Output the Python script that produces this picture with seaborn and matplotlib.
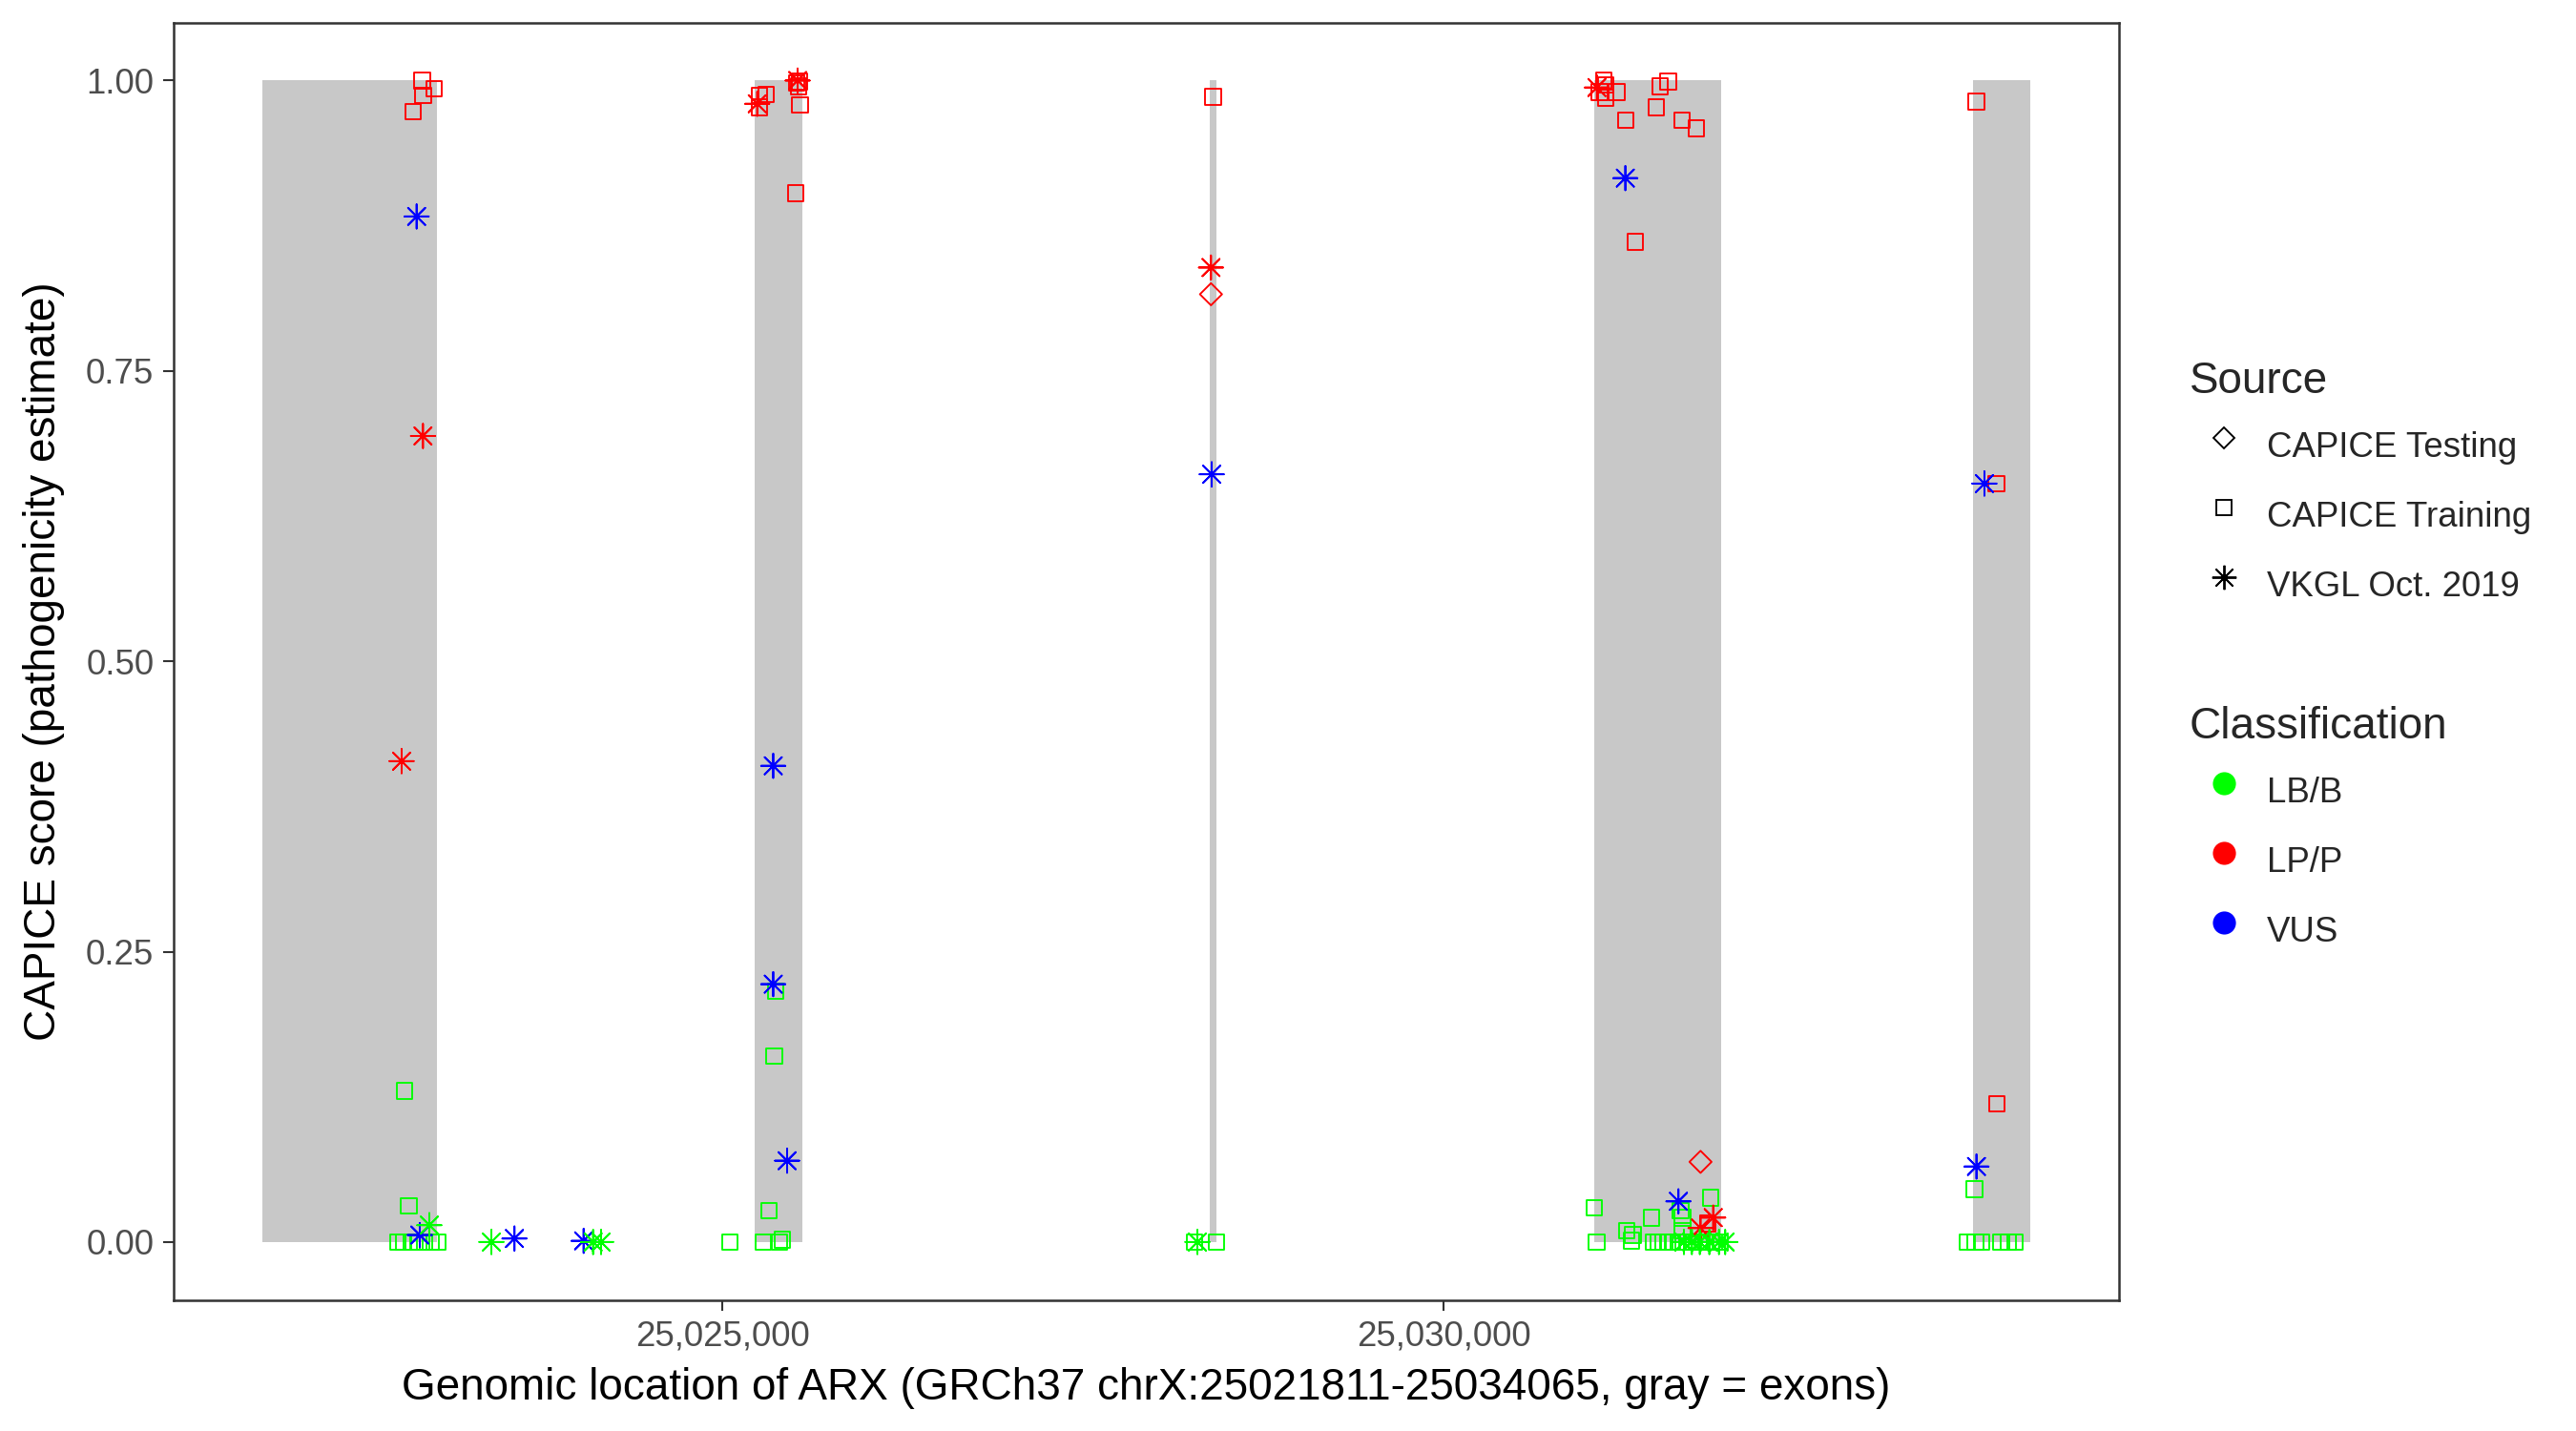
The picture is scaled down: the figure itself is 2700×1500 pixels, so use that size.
import matplotlib
matplotlib.use("Agg")
import numpy as np
import pandas as pd
import matplotlib.pyplot as plt
import seaborn as sns
from matplotlib.lines import Line2D

# -----------------------------------------------------------------------------
# data
# -----------------------------------------------------------------------------
GENE_START, GENE_END = 25021811, 25034065

exon_start = [25021811, 25025225, 25028379, 25031041, 25033666]
exon_end   = [25023023, 25025556, 25028424, 25031921, 25034065]

# CAPICE Testing (diamonds)
testing_pos   = [25028386, 25031778]
testing_score = [0.816, 0.069]
testing_cls   = ["LP/P", "LP/P"]

# CAPICE Training (squares)
training_pos = [
    25022920, 25023003, 25022926, 25022858, 25025257, 25025302, 25025257,
    25025515, 25025535, 25025528, 25025538, 25025508, 25028402, 25031106,
    25031120, 25031079, 25031120, 25031197, 25031498, 25031553, 25031471,
    25031260, 25031649, 25031751, 25031326, 25031828, 25033688, 25033829,
    25033833,
    25022799, 25022828, 25022750, 25022793, 25022849, 25022893, 25022937,
    25022981, 25023025, 25025052, 25025284, 25025396, 25025416, 25025323,
    25025361, 25025370, 25028272, 25028424, 25031042, 25031057, 25031266,
    25031310, 25031299, 25031438, 25031453, 25031486, 25031519, 25031552,
    25031585, 25031652, 25031641, 25031652, 25031641, 25031685, 25031729,
    25031773, 25031817, 25031873, 25031916, 25031850, 25033676, 25033628,
    25033683, 25033724, 25033861, 25033911, 25033958,
]
training_score = [
    1.000, 0.993, 0.987, 0.973, 0.987, 0.988, 0.977,
    0.998, 0.999, 0.995, 0.979, 0.903, 0.986, 1.000,
    0.996, 0.990, 0.985, 0.990, 0.995, 0.999, 0.977,
    0.966, 0.966, 0.959, 0.861, 0.016, 0.982, 0.653,
    0.119,
    0.130, 0.031, 0.0, 0.0, 0.0, 0.0, 0.0,
    0.0, 0.0, 0.0, 0.0, 0.0, 0.002, 0.027,
    0.160, 0.216, 0.0, 0.0, 0.0295, 0.0, 0.010,
    0.006, 0.001, 0.021, 0.0, 0.0, 0.0, 0.0,
    0.0, 0.021, 0.027, 0.010, 0.0, 0.0, 0.0,
    0.0, 0.0, 0.0, 0.0, 0.038, 0.0455, 0.0,
    0.0, 0.0, 0.0, 0.0, 0.0,
]
training_cls = ["LP/P"] * 29 + ["LB/B"] * 47

# VKGL Oct. 2019 (asterisks)
vkgl_pos = [
    25022926, 25022778, 25025242, 25025522, 25028386, 25031060, 25031866,
    25031778,
    25022882, 25022904, 25023560, 25024039, 25025353, 25025353, 25025449,
    25028391, 25031257, 25031625, 25033745, 25033690,
    25022970, 25023400, 25024105, 25024160, 25028292, 25031663, 25031718,
    25031773, 25031839, 25031906, 25031949,
]
vkgl_score = [
    0.694, 0.414, 0.980, 1.000, 0.839, 0.994, 0.021,
    0.012,
    0.883, 0.006, 0.003, 0.001, 0.222, 0.410, 0.070,
    0.661, 0.916, 0.035, 0.653, 0.065,
    0.0145, 0.0, 0.0, 0.0, 0.0, 0.0, 0.0,
    0.0, 0.0, 0.0, 0.0,
]
vkgl_cls = ["LP/P"] * 8 + ["VUS"] * 12 + ["LB/B"] * 11

sources = ["CAPICE Testing", "CAPICE Training", "VKGL Oct. 2019"]
classes = ["LB/B", "LP/P", "VUS"]
palette = {"LB/B": "#00FF00", "LP/P": "#FF0000", "VUS": "#0000FF"}

# -----------------------------------------------------------------------------
# build a long table
# -----------------------------------------------------------------------------
df = pd.concat([
    pd.DataFrame({"pos": testing_pos, "score": testing_score,
                  "Classification": testing_cls, "Source": sources[0]}),
    pd.DataFrame({"pos": training_pos, "score": training_score,
                  "Classification": training_cls, "Source": sources[1]}),
    pd.DataFrame({"pos": vkgl_pos, "score": vkgl_score,
                  "Classification": vkgl_cls, "Source": sources[2]}),
], ignore_index=True)

# -----------------------------------------------------------------------------
# plot
# -----------------------------------------------------------------------------
sns.set_style("white")
plt.rcParams["font.family"] = ["Liberation Sans", "DejaVu Sans"]

ASTERISK = (8, 2, 0)
shape = {sources[0]: ("D", 15.5), sources[1]: ("s", 15.5), sources[2]: (ASTERISK, 37)}

fig = plt.figure(figsize=(9, 5), dpi=300, facecolor="white")
ax = fig.add_axes([0.0674, 0.0915, 0.7552, 0.8928])

for s, e in zip(exon_start, exon_end):
    ax.fill_between([s, e], 0, 1, color="#C8C8C8", lw=0, zorder=0)

for src in sources:
    marker, size = shape[src]
    sns.scatterplot(data=df[df["Source"] == src], x="pos", y="score",
                    hue="Classification", palette=palette, marker=marker,
                    s=size, legend=False, ax=ax, zorder=3)

# open markers, coloured outline
for coll in ax.collections[len(exon_start):]:
    fc = coll.get_facecolors()
    coll.set_edgecolors(fc)
    coll.set_facecolors("none")
    coll.set_linewidths(0.45)

span = GENE_END - GENE_START
ax.set_xlim(GENE_START - 0.05 * span, GENE_END + 0.05 * span)
ax.set_ylim(-0.05, 1.05)
ax.set_xticks([25025000, 25030000])
ax.set_xticklabels(["25,025,000", "25,030,000"])
ax.set_yticks([0, 0.25, 0.5, 0.75, 1.0])
ax.set_yticklabels(["0.00", "0.25", "0.50", "0.75", "1.00"])
ax.tick_params(axis="both", length=2.75, width=0.5, color="#333333",
               labelsize=8.8, labelcolor="#4D4D4D", pad=2.2,
               bottom=True, left=True)
for sp in ax.spines.values():
    sp.set_color("#333333")
    sp.set_linewidth(0.6)

ax.set_xlabel("Genomic location of ARX (GRCh37 chrX:25021811-25034065, gray = exons)",
              fontsize=11, color="black", labelpad=3.6)
ax.set_ylabel("CAPICE score (pathogenicity estimate)",
              fontsize=11, color="black", labelpad=5.3)

# -----------------------------------------------------------------------------
# legends (ggplot style)
# -----------------------------------------------------------------------------
src_handles = [
    Line2D([], [], ls="", marker="D", ms=3.9, mfc="none", mec="black", mew=0.45),
    Line2D([], [], ls="", marker="s", ms=3.9, mfc="none", mec="black", mew=0.45),
    Line2D([], [], ls="", marker=ASTERISK, ms=6.1, mec="black", mew=0.45),
]
cls_handles = [Line2D([], [], ls="", marker="o", ms=4.8, mfc=palette[c], mec=palette[c])
               for c in classes]

leg_kw = dict(frameon=False, fontsize=8.8, title_fontsize=11, alignment="left",
              borderpad=0, borderaxespad=0, labelspacing=0.47, handlelength=1.96,
              handleheight=1.96, handletextpad=0.25, loc="upper left")
leg1 = fig.legend(src_handles, sources, title="Source",
                  bbox_to_anchor=(0.850, 0.748), **leg_kw)
leg2 = fig.legend(cls_handles, classes, title="Classification",
                  bbox_to_anchor=(0.850, 0.5065), **leg_kw)

fig.savefig("out.png", dpi=300, facecolor="white")
